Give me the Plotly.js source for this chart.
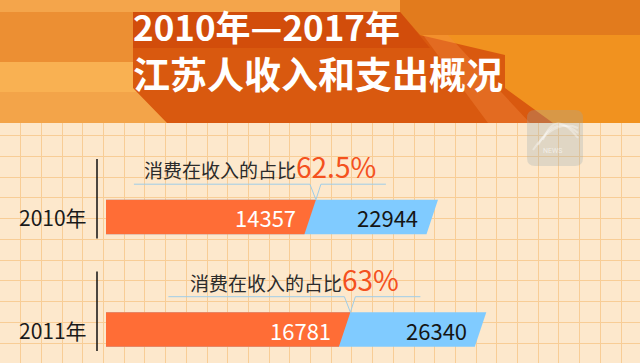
<!DOCTYPE html>
<html>
<head>
<meta charset="utf-8">
<script src="https://cdn.plot.ly/plotly-3.0.1.min.js"></script>
<style>
  html, body { margin: 0; padding: 0; background: #fde8cc; }
  #chart { width: 640px; height: 363px; }
</style>
</head>
<body>
<div id="chart"></div>
<script>
// ---------- data ----------
const years = ['2010年', '2011年'];
const spending = [14357, 16781];      // 消费支出
const income = [22944, 26340];        // 收入
const shareLabels = ['62.5%', '63%']; // 消费在收入的占比
const shareCaption = '消费在收入的占比';
const titleLines = ['2010年—2017年', '江苏人收入和支出概况'];

// ---------- scale settings (pixels <-> value units) ----------
const W = 640, H = 363;
const barStartPx = 106;        // where value 0 sits
const pxPerUnit = 0.01422;     // horizontal scale
const rowTopPx = 217;          // centre of first row
const rowPx = 112.5;           // row spacing
const halfBar = 17.25 / rowPx; // half bar height (row units)
const slant = 5.75 / pxPerUnit;// half slant of bar ends (value units)
const u = px => px / pxPerUnit;// px length -> value units
const r = px => px / rowPx;    // px length -> row units

const xRange = [-barStartPx / pxPerUnit, (W - barStartPx) / pxPerUnit];
const yRange = [(H - rowTopPx) / rowPx, -rowTopPx / rowPx];

const ORANGE = '#ff6d36';
const BLUE = '#80cbff';
const BRACKET = '#9fcde8';
const RED = '#f4511e';
const CJK = '"Noto Sans CJK SC", "Noto Sans", sans-serif';
const NUM = '"Noto Sans CJK SC", sans-serif';

const traces = [{
  x: [0], y: [0], xaxis: 'x', yaxis: 'y', mode: 'markers',
  marker: { opacity: 0 }, hoverinfo: 'skip', showlegend: false
}];
const annotations = [];
const shapes = [];

years.forEach((yr, i) => {
  const top = i - halfBar, bot = i + halfBar;
  const inc = income[i], sp = spending[i];
  // income bar (blue, behind)
  traces.push({
    type: 'scatter', xaxis: 'x2', yaxis: 'y2', mode: 'lines',
    x: [0, inc + slant, inc - slant, 0, 0],
    y: [top, top, bot, bot, top],
    fill: 'toself', fillcolor: BLUE, line: { width: 0, color: BLUE },
    hoverinfo: 'skip', showlegend: false
  });
  // spending bar (orange, front)
  traces.push({
    type: 'scatter', xaxis: 'x2', yaxis: 'y2', mode: 'lines',
    x: [0, sp + slant, sp - slant, 0, 0],
    y: [top, top, bot, bot, top],
    fill: 'toself', fillcolor: ORANGE, line: { width: 0, color: ORANGE },
    hoverinfo: 'skip', showlegend: false
  });
  // bracket line with V notch pointing at the split
  const tip = sp + slant;
  const yl = i - r(32.8);
  traces.push({
    type: 'scatter', xaxis: 'x2', yaxis: 'y2', mode: 'lines',
    x: [tip - u(182), tip - u(6), tip, tip + u(5), tip + u(70)],
    y: [yl, yl, top, yl, yl],
    line: { color: BRACKET, width: 1 },
    hoverinfo: 'skip', showlegend: false
  });
  // caption + share
  annotations.push({
    xref: 'x2', yref: 'y2', x: tip - u(56), y: yl, yshift: -4,
    xanchor: 'center', yanchor: 'bottom', showarrow: false,
    text: shareCaption + '<span style="font-size:28px;color:' + RED + '">' + shareLabels[i] + '</span>',
    font: { family: CJK, size: 19, color: '#2b2b2b' }
  });
  // value labels
  annotations.push({
    xref: 'x2', yref: 'y2', x: sp, y: i, xshift: -12,
    xanchor: 'right', yanchor: 'middle', showarrow: false,
    text: String(sp), font: { family: NUM, size: 22, color: '#ffffff' }
  });
  annotations.push({
    xref: 'x2', yref: 'y2', x: inc, y: i, xshift: -12,
    xanchor: 'right', yanchor: 'middle', showarrow: false,
    text: String(inc), font: { family: NUM, size: 22, color: '#151515' }
  });
  // year label
  annotations.push({
    xref: 'x', yref: 'y2', x: 89, y: i,
    xanchor: 'right', yanchor: 'middle', showarrow: false,
    text: yr, font: { family: NUM, size: 21, color: '#1a1a1a' }
  });
  // divider
  shapes.push({
    type: 'line', xref: 'x', yref: 'y2', x0: 97, x1: 97,
    y0: i - r(58), y1: i + r(21.5),
    line: { color: '#111111', width: 1.5 }
  });
});

// ---------- header decoration ----------
const hb = 123;
const hdr = (path, color) => shapes.push({
  type: 'path', xref: 'x', yref: 'y', layer: 'above', path: path,
  fillcolor: color, line: { width: 0 }
});
hdr(`M0,0 L640,0 L640,${hb} L0,${hb} Z`, '#f1921f');
hdr(`M0,0 L400,0 L400,12 L0,12 Z`, '#f4a54b');
hdr(`M0,12 L400,12 L400,62 L0,62 Z`, '#ec8f33');
hdr(`M0,62 L400,62 L400,92 L0,92 Z`, '#f9b152');
hdr(`M0,92 L400,92 L400,${hb} L0,${hb} Z`, '#f3a449');
hdr(`M400,0 L640,0 L640,35 L400,35 Z`, '#e27b1d');
hdr(`M133,12 L400,12 L420,35 L505,55 L505,88 L553,${hb} L167,${hb} L133,88 Z`, '#d9590f');
hdr(`M133,12 L400,12 L430,48 L133,48 Z`, '#d24d0b');
hdr(`M423,35 L448,35 L530,${hb} L488,${hb} Z`, 'rgba(245,140,70,0.35)');

// watermark
shapes.push({
  type: 'path', xref: 'x', yref: 'y', layer: 'above',
  path: 'M535,110 L575,110 Q583,110 583,118 L583,158 Q583,166 575,166 L535,166 Q527,166 527,158 L527,118 Q527,110 535,110 Z',
  fillcolor: 'rgba(150,170,175,0.28)', line: { width: 0 }
});
[0, 5, 10].forEach(d => shapes.push({
  type: 'path', xref: 'x', yref: 'y', layer: 'above',
  path: `M${533 + d},${150 - d} Q${555},${118 - d} ${578},${128 + d}`,
  line: { color: 'rgba(255,255,255,0.35)', width: 2 }
}));
annotations.push({
  xref: 'x', yref: 'y', x: 552, y: 151, showarrow: false,
  text: 'NEWS', font: { family: 'Roboto, sans-serif', size: 7, color: 'rgba(255,255,255,0.6)' }
});

// title (two lines in one text block)
annotations.push({
  xref: 'x', yref: 'y', x: 131, y: 50, xanchor: 'left', yanchor: 'middle', align: 'left',
  showarrow: false,
  text: '<span style="font-size:35px">' + titleLines[0] + '</span><br>' + titleLines[1],
  font: { family: CJK, size: 37, color: '#ffffff', weight: 'bold' }
});

const gridAxis = {
  showgrid: true, gridcolor: '#f8cd96', gridwidth: 1,
  showticklabels: false, ticks: '', zeroline: false, showline: false, fixedrange: true
};

const layout = {
  width: W, height: H,
  margin: { l: 0, r: 0, t: 0, b: 0, pad: 0 },
  paper_bgcolor: '#fde8cc', plot_bgcolor: '#fde8cc',
  showlegend: false,
  xaxis: Object.assign({}, gridAxis, { range: [0, W], tick0: 0, dtick: 20.7 }),
  yaxis: Object.assign({}, gridAxis, { range: [H, 0], tick0: 135.5, dtick: 20.75 }),
  xaxis2: { overlaying: 'x', range: xRange, visible: false, fixedrange: true },
  yaxis2: { overlaying: 'y', range: yRange, visible: false, fixedrange: true },
  shapes: shapes,
  annotations: annotations
};

Plotly.newPlot('chart', traces, layout, { staticPlot: true, displayModeBar: false });
</script>
</body>
</html>
